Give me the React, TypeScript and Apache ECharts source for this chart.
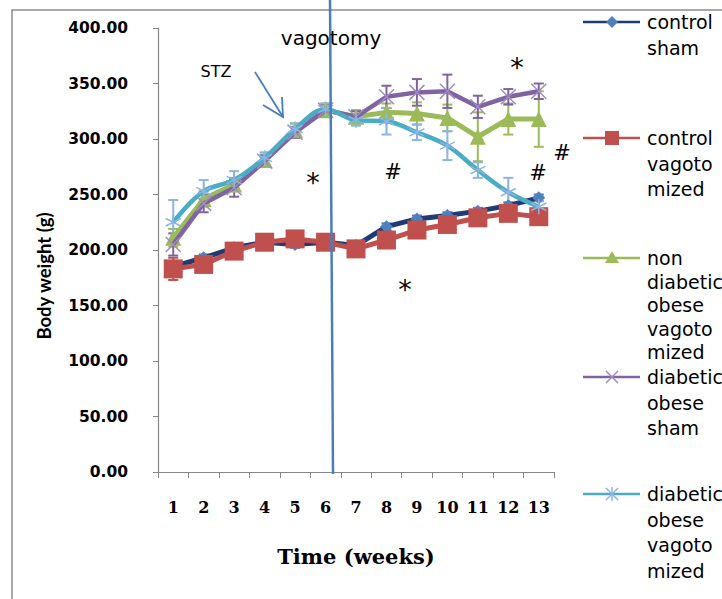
import React, { useEffect, useRef } from 'react';
import * as echarts from 'echarts';

const weeks = ['1', '2', '3', '4', '5', '6', '7', '8', '9', '10', '11', '12', '13'];
const yTicks = { min: 0, max: 400, interval: 50 };

const controlSham = [185, 193, 202, 207, 205, 207, 204, 221, 228, 231, 235, 240, 247];
const controlShamErr = [3, 3, 3, 3, 3, 3, 3, 3, 3, 3, 3, 3, 3];
const controlVag = [183, 187, 199, 207, 210, 207, 201, 209, 218, 223, 229, 233, 230];
const controlVagErr = [10, 5, 4, 4, 4, 4, 4, 5, 5, 5, 5, 5, 5];
const nonDiabVag = [211, 246, 259, 281, 308, 326, 320, 324, 323, 319, 302, 318, 318];
const nonDiabVagErr = [8, 7, 6, 5, 6, 6, 6, 8, 10, 12, 22, 14, 25];
const diabSham = [205, 242, 256, 280, 306, 326, 320, 338, 342, 343, 329, 338, 343];
const diabShamErr = [10, 8, 8, 5, 5, 5, 5, 10, 12, 15, 10, 7, 7];
const diabVag = [225, 253, 263, 283, 309, 327, 317, 316, 306, 294, 272, 252, 239];
const diabVagErr = [20, 10, 8, 5, 5, 5, 5, 12, 7, 13, 7, 13, 5];

const names = [
  'control sham',
  'control vagotomized',
  'non diabetic obese vagotomized',
  'diabetic obese sham',
  'diabetic obese vagotomized',
];

const C_NAVY = '#1F3B73';
const C_BLUE = '#4F81BD';
const C_RED = '#C0504D';
const C_GREEN = '#9BBB59';
const C_PURPLE = '#8064A2';
const C_PURPLE_L = '#A08CC0';
const C_CYAN = '#4BACC6';
const C_CYAN_L = '#8DB4E2';

const SANS = '"DejaVu Sans", sans-serif';
const SERIF = '"DejaVu Serif", serif';

function errSeries(name: string, vals: number[], errs: number[], color: string) {
  return {
    type: 'custom',
    name: name + ' error',
    z: 3,
    encode: { x: 0, y: 1 },
    data: vals.map((v, i) => [i, v, errs[i]]),
    renderItem: (_p: any, api: any) => {
      const x = api.value(0);
      const v = api.value(1);
      const e = api.value(2);
      const hi = api.coord([x, v + e]);
      const lo = api.coord([x, v - e]);
      const w = 5;
      const st = { stroke: color, lineWidth: 2 };
      return {
        type: 'group',
        children: [
          { type: 'line', shape: { x1: hi[0], y1: hi[1], x2: lo[0], y2: lo[1] }, style: st },
          { type: 'line', shape: { x1: hi[0] - w, y1: hi[1], x2: hi[0] + w, y2: hi[1] }, style: st },
          { type: 'line', shape: { x1: lo[0] - w, y1: lo[1], x2: lo[0] + w, y2: lo[1] }, style: st },
        ],
      };
    },
  };
}

const X_PATH = 'path://M0,0L10,10M10,0L0,10';
const STAR_PATH = 'path://M5,0L5,10M0.7,2.5L9.3,7.5M9.3,2.5L0.7,7.5';

function legendEntry(y: number, lines: string[], color: string, marker: any[], lh = 25.5) {
  return [
    { type: 'line', z: 100, shape: { x1: 583, y1: y, x2: 640, y2: y }, style: { stroke: color, lineWidth: 2.5 } },
    ...marker,
    {
      type: 'text',
      z: 100,
      x: 647,
      y: y - lh / 2,
      style: {
        text: lines.join('\n'),
        font: `19px ${SANS}`,
        fill: '#000',
        lineHeight: lh,
        verticalAlign: 'top',
        align: 'left',
      },
    },
  ];
}

function xMarker(cx: number, cy: number, color: string) {
  const s = 6;
  return [
    { type: 'line', z: 101, shape: { x1: cx - s, y1: cy - s, x2: cx + s, y2: cy + s }, style: { stroke: color, lineWidth: 1.5 } },
    { type: 'line', z: 101, shape: { x1: cx + s, y1: cy - s, x2: cx - s, y2: cy + s }, style: { stroke: color, lineWidth: 1.5 } },
  ];
}
function starMarker(cx: number, cy: number, color: string) {
  return [
    ...xMarker(cx, cy, color),
    { type: 'line', z: 101, shape: { x1: cx, y1: cy - 7, x2: cx, y2: cy + 7 }, style: { stroke: color, lineWidth: 1.5 } },
  ];
}

export default function App() {
  const ref = useRef<HTMLDivElement>(null);
  useEffect(() => {
    const chart = echarts.init(ref.current!, null, { renderer: 'svg' });
    const annot = (text: string, x: number, y: number, size = 20) => ({
      type: 'text',
      z: 100,
      x,
      y,
      style: { text, font: `${size}px ${SANS}`, fill: '#000', align: 'center', verticalAlign: 'middle' },
    });
    const option: any = {
      animation: false,
      backgroundColor: '#fff',
      grid: { left: 158, top: 28, right: 168, bottom: 127, containLabel: false },
      xAxis: {
        type: 'category',
        data: weeks,
        boundaryGap: true,
        axisLine: { lineStyle: { color: '#868686', width: 1.2 } },
        axisTick: { show: true, length: 6, alignWithLabel: false, lineStyle: { color: '#868686' } },
        axisLabel: { margin: 27, color: '#000', fontFamily: SERIF, fontWeight: 'bold', fontSize: 16, interval: 0 },
        name: 'Time (weeks)',
        nameLocation: 'middle',
        nameGap: 74,
        nameTextStyle: { color: '#000', fontFamily: SERIF, fontWeight: 'bold', fontSize: 21 },
        splitLine: { show: false },
      },
      yAxis: {
        type: 'value',
        min: yTicks.min,
        max: yTicks.max,
        interval: yTicks.interval,
        axisLine: { show: true, lineStyle: { color: '#868686', width: 1.2 } },
        axisTick: { show: true, length: 5, lineStyle: { color: '#868686' } },
        axisLabel: {
          margin: 30,
          color: '#000',
          fontFamily: SANS,
          fontWeight: 'bold',
          fontSize: 15.5,
          formatter: (v: number) => v.toFixed(2),
        },
        splitLine: { show: false },
      },
      series: [
        errSeries(names[0], controlSham, controlShamErr, C_BLUE),
        errSeries(names[1], controlVag, controlVagErr, C_RED),
        errSeries(names[2], nonDiabVag, nonDiabVagErr, C_GREEN),
        errSeries(names[3], diabSham, diabShamErr, C_PURPLE),
        errSeries(names[4], diabVag, diabVagErr, C_CYAN_L),
        {
          type: 'line',
          name: names[0],
          data: controlSham,
          z: 4,
          symbol: 'diamond',
          symbolSize: 13,
          lineStyle: { color: C_NAVY, width: 5 },
          itemStyle: { color: C_BLUE },
        },
        {
          type: 'line',
          name: names[1],
          data: controlVag,
          z: 5,
          symbol: 'rect',
          symbolSize: 19,
          lineStyle: { color: C_RED, width: 5 },
          itemStyle: { color: C_RED },
        },
        {
          type: 'line',
          name: names[2],
          data: nonDiabVag,
          z: 6,
          symbol: 'triangle',
          symbolSize: 16,
          lineStyle: { color: C_GREEN, width: 5 },
          itemStyle: { color: C_GREEN },
        },
        {
          type: 'line',
          name: names[3],
          data: diabSham,
          z: 7,
          symbol: X_PATH,
          symbolSize: 15,
          lineStyle: { color: C_PURPLE, width: 4.5 },
          itemStyle: { color: 'transparent', borderColor: C_PURPLE_L, borderWidth: 1.5 },
        },
        {
          type: 'line',
          name: names[4],
          data: diabVag,
          z: 8,
          smooth: 0.35,
          symbol: STAR_PATH,
          symbolSize: 15,
          lineStyle: { color: C_CYAN, width: 4.5 },
          itemStyle: { color: 'transparent', borderColor: C_CYAN_L, borderWidth: 1.5 },
        },
      ],
      graphic: [
        {
          type: 'rect',
          z: 0,
          shape: { x: 12, y: 10, width: 800, height: 700 },
          style: { fill: 'none', stroke: '#8C8C8C', lineWidth: 1.5 },
        },
        {
          type: 'text',
          z: 100,
          x: 44,
          y: 276,
          rotation: Math.PI / 2,
          style: {
            text: 'Body weight (g)',
            font: `bold 18.5px Lato, sans-serif`,
            fill: '#000',
            align: 'center',
            verticalAlign: 'middle',
          },
        },
        { type: 'line', z: 100, shape: { x1: 330, y1: 0, x2: 333, y2: 474 }, style: { stroke: '#4A7EBB', lineWidth: 2.5 } },
        annot('vagotomy', 331, 38, 20),
        annot('STZ', 216, 71, 16),
        { type: 'line', z: 100, shape: { x1: 255, y1: 72, x2: 283, y2: 117 }, style: { stroke: '#4A7EBB', lineWidth: 1.8 } },
        { type: 'polyline', z: 100, shape: { points: [[263, 105], [283, 117], [282, 97]] }, style: { stroke: '#4A7EBB', lineWidth: 1.8, fill: 'none' } },
        annot('*', 313, 182, 27),
        annot('#', 393, 172, 21),
        annot('*', 405, 289, 27),
        annot('*', 517, 67, 27),
        annot('#', 538, 173, 21),
        annot('#', 562, 153, 21),
        ...legendEntry(22, ['control', 'sham'], C_NAVY, [
          { type: 'polygon', z: 101, shape: { points: [[612, 16], [618, 22], [612, 28], [606, 22]] }, style: { fill: C_BLUE } },
        ]),
        ...legendEntry(138, ['control', 'vagoto', 'mized'], C_RED, [
          { type: 'rect', z: 101, shape: { x: 605, y: 131, width: 14, height: 14 }, style: { fill: C_RED } },
        ]),
        ...legendEntry(258, ['non', 'diabetic', 'obese', 'vagoto', 'mized'], C_GREEN, [
          { type: 'polygon', z: 101, shape: { points: [[612, 251], [619, 263], [605, 263]] }, style: { fill: C_GREEN } },
        ], 23.5),
        ...legendEntry(377, ['diabetic', 'obese', 'sham'], C_PURPLE, xMarker(612, 377, C_PURPLE_L)),
        ...legendEntry(494, ['diabetic', 'obese', 'vagoto', 'mized'], C_CYAN, starMarker(612, 494, C_CYAN_L)),
      ],
    };
    chart.setOption(option);
    return () => chart.dispose();
  }, []);
  return (
    <div
      ref={ref}
      style={{ position: 'absolute', left: 0, top: 0, width: 722, height: 599, background: '#fff' }}
    />
  );
}
